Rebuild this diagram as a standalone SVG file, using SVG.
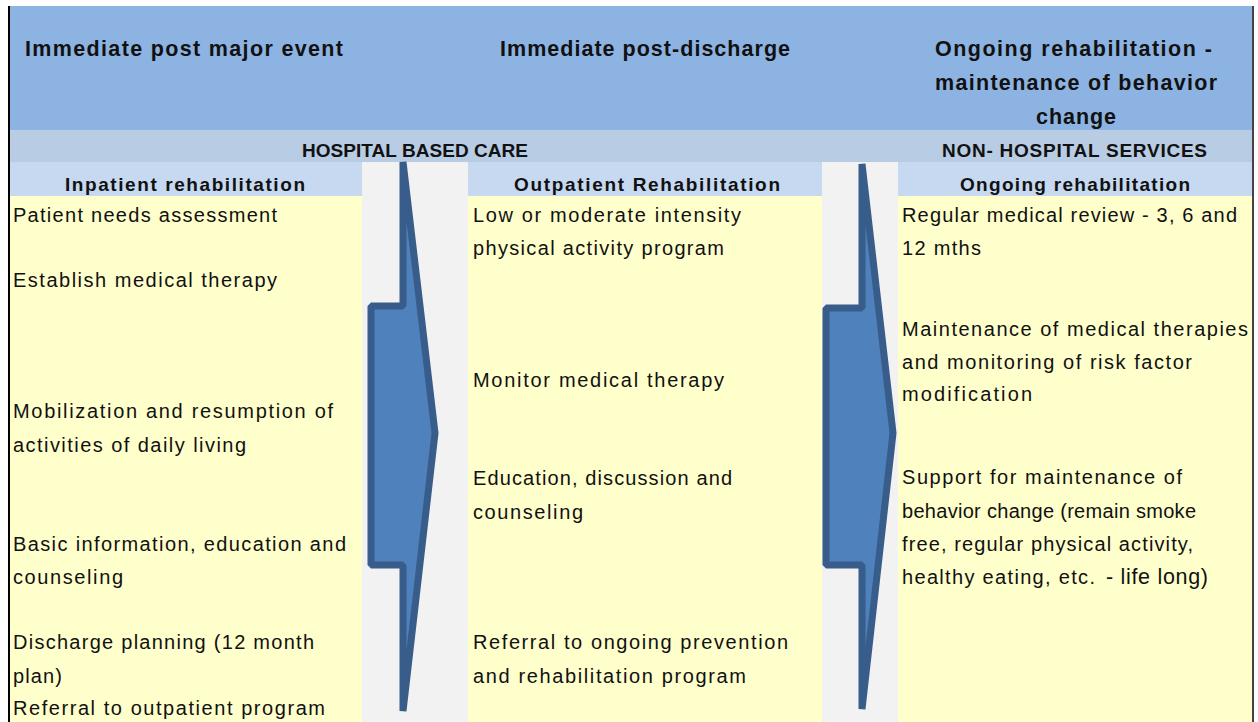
<svg xmlns="http://www.w3.org/2000/svg" width="1258" height="722" viewBox="0 0 1258 722">
<style>
text{font-family:"Liberation Sans",Arial,sans-serif;fill:#111;}
.h{font-size:21.5px;font-weight:bold;}
.b{font-size:19px;font-weight:bold;}
.t{font-size:20px;}
.arrow{fill:#4f81bd;stroke:#385d8a;stroke-width:7;stroke-linejoin:bevel;}
</style>
<rect x="0" y="0" width="1258" height="722" fill="#fff"/>
<g id="bands">
<rect x="9" y="6" width="1243" height="124" fill="#8db3e2"/>
<rect x="9" y="130" width="1243" height="32" fill="#b8cce4"/>
<rect x="9" y="162" width="353" height="34" fill="#c6d9f1"/>
<rect x="468" y="162" width="354" height="34" fill="#c6d9f1"/>
<rect x="898" y="162" width="354" height="34" fill="#c6d9f1"/>
<rect x="9" y="196" width="353" height="526" fill="#ffffcc"/>
<rect x="468" y="196" width="354" height="526" fill="#ffffcc"/>
<rect x="898" y="196" width="354" height="526" fill="#ffffcc"/>
<rect x="362" y="162" width="106" height="560" fill="#f2f2f2"/>
<rect x="822" y="162" width="76" height="560" fill="#f2f2f2"/>
<line x1="9" y1="6" x2="9" y2="722" stroke="#000" stroke-width="2"/>
<line x1="1253" y1="6" x2="1253" y2="722" stroke="#444" stroke-width="2"/>
</g>
<g id="headers">
<text class="h" x="25" y="56" textLength="318">Immediate post major event</text>
<text class="h" x="500" y="56" textLength="290">Immediate post-discharge</text>
<text class="h" x="935" y="56" textLength="277">Ongoing rehabilitation -</text>
<text class="h" x="935" y="90" textLength="282">maintenance of behavior</text>
<text class="h" x="1036" y="124" textLength="80">change</text>
<text class="b" x="302" y="157" textLength="226">HOSPITAL BASED CARE</text>
<text class="b" x="942" y="157" textLength="265">NON- HOSPITAL SERVICES</text>
</g>
<g id="connectors">
<polygon class="arrow" points="371,306 403,306 403,162 435,433 403,711 403,565 371,565"/>
<polygon class="arrow" points="826,308 862,308 862,164 893,433 862,709 862,565 826,565"/>
</g>
<g id="col-inpatient">
<text class="b" x="65" y="191" textLength="240">Inpatient rehabilitation</text>
<text class="t" x="13" y="222" textLength="264">Patient needs assessment</text>
<text class="t" x="13" y="287" textLength="264">Establish  medical therapy</text>
<text class="t" x="13" y="418" textLength="320">Mobilization and resumption of</text>
<text class="t" x="13" y="452" textLength="233">activities of daily living</text>
<text class="t" x="13" y="551" textLength="333">Basic information, education and</text>
<text class="t" x="13" y="584" textLength="110">counseling</text>
<text class="t" x="13" y="649" textLength="301">Discharge planning (12 month</text>
<text class="t" x="13" y="683" textLength="49">plan)</text>
<text class="t" x="13" y="715" textLength="312">Referral to outpatient program</text>
</g>
<g id="col-outpatient">
<text class="b" x="514" y="191" textLength="266">Outpatient  Rehabilitation</text>
<text class="t" x="473" y="222" textLength="268">Low or moderate intensity</text>
<text class="t" x="473" y="255" textLength="251">physical activity program</text>
<text class="t" x="473" y="387" textLength="251">Monitor medical therapy</text>
<text class="t" x="473" y="485" textLength="259">Education, discussion and</text>
<text class="t" x="473" y="519" textLength="110">counseling</text>
<text class="t" x="473" y="649" textLength="315">Referral to ongoing prevention</text>
<text class="t" x="473" y="683" textLength="273">and rehabilitation program</text>
</g>
<g id="col-ongoing">
<text class="b" x="960" y="191" textLength="230">Ongoing rehabilitation</text>
<text class="t" x="902" y="222" textLength="335">Regular medical review - 3, 6 and</text>
<text class="t" x="902" y="255" textLength="79">12 mths</text>
<text class="t" x="902" y="336" textLength="346">Maintenance of medical therapies</text>
<text class="t" x="902" y="369" textLength="290">and monitoring of risk factor</text>
<text class="t" x="902" y="401" textLength="130">modification</text>
<text class="t" x="902" y="484" textLength="280">Support for maintenance of</text>
<text class="t" x="902" y="518" textLength="294">behavior change (remain smoke</text>
<text class="t" x="902" y="551" textLength="291">free, regular physical activity,</text>
<text class="t" x="902" y="584" textLength="193">healthy eating, etc.</text>
<text x="1106" y="584" font-size="21.5" fill="#2a2340" textLength="102">- life long)</text>
</g>
</svg>
